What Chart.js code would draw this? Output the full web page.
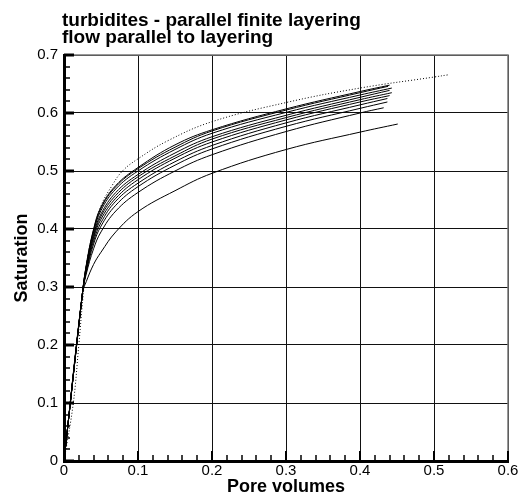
<!DOCTYPE html>
<html>
<head>
<meta charset="utf-8">
<script src="https://cdn.jsdelivr.net/npm/chart.js@4/dist/chart.umd.min.js"></script>
<style>
  html, body { margin: 0; padding: 0; background: #fff; }
  #wrap { width: 526px; height: 499px; }
</style>
</head>
<body>
<div id="wrap"><canvas id="sat-canvas"></canvas></div>
<script>
// tick values + labels
const xTicks = [0, 0.1, 0.2, 0.3, 0.4, 0.5, 0.6];
const xTickLabels = ["0", "0.1", "0.2", "0.3", "0.4", "0.5", "0.6"];
const yTicks = [0, 0.1, 0.2, 0.3, 0.4, 0.5, 0.6, 0.7];
const yTickLabels = ["0", "0.1", "0.2", "0.3", "0.4", "0.5", "0.6", "0.7"];

// reference (homogeneous) run, drawn dotted
const refRun = [[0,0],[0.0126,0.1],[0.02,0.2],[0.027,0.3],[0.033,0.36],[0.041,0.40],[0.05,0.44],[0.065,0.475],[0.079,0.50],[0.1,0.521],[0.14,0.552],[0.2,0.585],[0.3,0.618],[0.4,0.643],[0.5,0.662],[0.52,0.666]];

// layered realisations, pore volumes vs saturation
const run1  = [[0,0],[0.025,0.29],[0.03,0.337],[0.04,0.400],[0.05,0.438],[0.07,0.475],[0.1,0.506],[0.15,0.545],[0.2,0.571],[0.3,0.607],[0.4,0.637],[0.44,0.648]];
const run2  = [[0,0],[0.025,0.29],[0.03,0.336],[0.04,0.398],[0.05,0.436],[0.07,0.473],[0.1,0.504],[0.15,0.541],[0.2,0.569],[0.3,0.605],[0.4,0.635],[0.438,0.646]];
const run3  = [[0,0],[0.025,0.29],[0.03,0.335],[0.04,0.395],[0.05,0.432],[0.07,0.469],[0.1,0.500],[0.15,0.537],[0.2,0.565],[0.3,0.601],[0.4,0.631],[0.443,0.643]];
const run4  = [[0,0],[0.025,0.29],[0.03,0.333],[0.04,0.391],[0.05,0.426],[0.07,0.463],[0.1,0.494],[0.15,0.531],[0.2,0.559],[0.3,0.596],[0.4,0.627],[0.44,0.639]];
const run5  = [[0,0],[0.025,0.29],[0.03,0.331],[0.04,0.387],[0.05,0.422],[0.07,0.458],[0.1,0.490],[0.15,0.526],[0.2,0.555],[0.3,0.592],[0.4,0.623],[0.443,0.635]];
const run6  = [[0,0],[0.025,0.29],[0.03,0.329],[0.04,0.384],[0.05,0.417],[0.07,0.453],[0.1,0.485],[0.15,0.522],[0.2,0.550],[0.3,0.588],[0.4,0.619],[0.44,0.630]];
const run7  = [[0,0],[0.025,0.29],[0.03,0.327],[0.04,0.379],[0.05,0.411],[0.07,0.448],[0.1,0.479],[0.15,0.516],[0.2,0.544],[0.3,0.583],[0.4,0.614],[0.437,0.625]];
const run8  = [[0,0],[0.025,0.29],[0.03,0.325],[0.04,0.374],[0.05,0.405],[0.07,0.441],[0.1,0.473],[0.15,0.510],[0.2,0.538],[0.3,0.577],[0.4,0.608],[0.437,0.619]];
const run9  = [[0,0],[0.025,0.29],[0.03,0.322],[0.04,0.366],[0.05,0.395],[0.07,0.431],[0.1,0.463],[0.15,0.500],[0.2,0.528],[0.3,0.568],[0.4,0.600],[0.432,0.609]];
const run10 = [[0,0],[0.025,0.29],[0.03,0.309],[0.04,0.339],[0.05,0.360],[0.07,0.395],[0.1,0.430],[0.15,0.466],[0.2,0.496],[0.3,0.537],[0.4,0.567],[0.451,0.581]];

const runs = [run1, run2, run3, run4, run5, run6, run7, run8, run9, run10];

function toPoints(arr) {
  return arr.map(p => ({x: p[0], y: p[1]}));
}

let datasets = runs.map(r => ({
  data: toPoints(r),
  borderColor: '#000',
  borderWidth: 1,
  pointRadius: 0,
  showLine: true,
  tension: 0.4
}));
datasets.push({
  data: toPoints(refRun),
  borderColor: '#000',
  borderWidth: 1,
  borderDash: [1, 2],
  pointRadius: 0,
  showLine: true,
  tension: 0.4
});

// inward major/minor tick marks, grey frame on top/right, two-line title
const frameTicks = {
  id: 'frameTicks',
  afterDraw(chart) {
    const ctx = chart.ctx;
    const a = chart.chartArea;
    const xs = chart.scales.x, ys = chart.scales.y;
    ctx.save();
    ctx.strokeStyle = '#777';
    ctx.lineWidth = 1.5;
    ctx.beginPath();
    ctx.moveTo(a.left, a.top);
    ctx.lineTo(a.right, a.top);
    ctx.lineTo(a.right, a.bottom);
    ctx.stroke();

    ctx.strokeStyle = '#000';
    for (let i = 0; i <= 30; i++) {
      const px = Math.round(xs.getPixelForValue(i * 0.02));
      const major = i % 5 === 0;
      ctx.lineWidth = major ? 2 : 1.5;
      ctx.beginPath();
      ctx.moveTo(px, a.bottom);
      ctx.lineTo(px, a.bottom - (major ? 10 : 6));
      ctx.stroke();
    }
    for (let i = 0; i <= 35; i++) {
      const py = Math.round(ys.getPixelForValue(i * 0.02));
      const major = i % 5 === 0;
      ctx.lineWidth = major ? 3 : 1.5;
      ctx.beginPath();
      ctx.moveTo(a.left, py);
      ctx.lineTo(a.left + (major ? 10 : 6), py);
      ctx.stroke();
    }

    ctx.fillStyle = '#000';
    ctx.font = 'bold 19px "Liberation Sans", Arial, sans-serif';
    ctx.textAlign = 'left';
    ctx.textBaseline = 'alphabetic';
    ctx.fillText('turbidites - parallel finite layering', a.left - 2, 26);
    ctx.fillText('flow parallel to layering', a.left - 2, 43);
    ctx.restore();
  }
};

const tickFont = { family: '"Liberation Sans", Arial, sans-serif', size: 15 };
const titleFont = { family: '"Liberation Sans", Arial, sans-serif', size: 18, weight: 'bold' };

new Chart(document.getElementById('sat-canvas'), {
  type: 'scatter',
  data: { datasets: datasets },
  plugins: [frameTicks],
  options: {
    responsive: true,
    maintainAspectRatio: false,
    animation: false,
    layout: { padding: { top: 55, right: 18, left: 0, bottom: 0 } },
    plugins: {
      legend: { display: false },
      tooltip: { enabled: false }
    },
    scales: {
      x: {
        type: 'linear',
        min: 0,
        max: 0.6,
        afterBuildTicks: s => { s.ticks = xTicks.map(v => ({value: v})); },
        afterFit: s => { s.height = 38; },
        ticks: {
          color: '#000',
          font: tickFont,
          padding: 1,
          maxRotation: 0,
          callback: (v, i) => xTickLabels[i]
        },
        grid: { color: '#111', lineWidth: 1, drawTicks: false },
        border: { color: '#000', width: 3 },
        title: {
          display: true,
          text: 'Pore volumes',
          color: '#000',
          font: titleFont,
          padding: { top: 0, bottom: 1 }
        }
      },
      y: {
        type: 'linear',
        min: 0,
        max: 0.7,
        afterBuildTicks: s => { s.ticks = yTicks.map(v => ({value: v})); },
        afterFit: s => { s.width = 64; },
        ticks: {
          color: '#000',
          font: tickFont,
          padding: 6,
          callback: (v, i) => yTickLabels[i]
        },
        grid: { color: '#111', lineWidth: 1, drawTicks: false },
        border: { color: '#000', width: 3 },
        title: {
          display: true,
          text: 'Saturation',
          color: '#000',
          font: titleFont,
          padding: { top: 11, bottom: 0 }
        }
      }
    }
  }
});
</script>
</body>
</html>
